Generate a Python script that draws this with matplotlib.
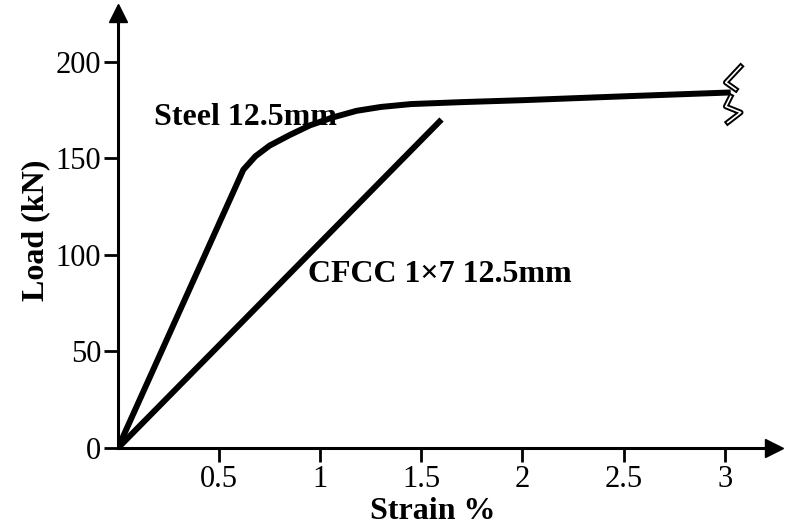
import numpy as np
import matplotlib.pyplot as plt
import matplotlib.transforms as mtransforms

# Data
steel_strain = [0.0, 0.62, 0.68, 0.75, 0.85, 0.95, 1.06, 1.18, 1.30, 1.45, 1.7, 2.0, 2.5, 3.03]
steel_load = [0.0, 144, 151, 156.5, 162, 167, 171, 174.5, 176.5, 178, 179, 180, 182, 184]
cfcc_strain = [0.0, 1.60]
cfcc_load = [0.0, 170]

x_ticks = [0.5, 1, 1.5, 2, 2.5, 3]
x_ticklabels = ["0.5", "1", "1.5", "2", "2.5", "3"]
y_ticks = [0, 50, 100, 150, 200]

plt.rcParams['font.family'] = ['Liberation Serif', 'DejaVu Serif']

fig = plt.figure(figsize=(7.86, 5.29), dpi=100)
ax = fig.add_axes([0.150, 0.153, 0.835, 0.822])

ax.plot(steel_strain, steel_load, color='black', lw=4.3, solid_capstyle='butt', solid_joinstyle='round')
ax.plot(cfcc_strain, cfcc_load, color='black', lw=4.3, solid_capstyle='butt')

ax.set_xlim(0, 3.245)
ax.set_ylim(0, 225)

ax.spines['top'].set_visible(False)
ax.spines['right'].set_visible(False)
ax.spines['left'].set_linewidth(2.2)
ax.spines['bottom'].set_linewidth(2.2)

# arrow heads at the axis ends
ax.plot(1, 0, marker='>', color='black', markersize=13, transform=ax.transAxes, clip_on=False)
ax.plot(0, 1, marker='^', color='black', markersize=13, transform=ax.transAxes, clip_on=False)

ax.set_xticks(x_ticks)
ax.set_xticklabels(x_ticklabels)
ax.set_yticks(y_ticks)
ax.tick_params(axis='both', labelsize=22, width=2, length=10, direction='out', pad=2)

ax.set_xlabel("Strain %", fontsize=23, fontweight='bold', labelpad=2, x=0.479)
ax.set_ylabel("Load (kN)", fontsize=23, fontweight='bold', labelpad=4)

ax.text(0.18, 171, "Steel 12.5mm", fontsize=23, fontweight='bold', va='center', ha='left')
ax.text(0.94, 90, "CFCC 1\u00d77 12.5mm", fontsize=23, fontweight='bold', va='center', ha='left')

# break symbol at the end of the steel curve (pixel offsets from the end point)
fig.canvas.draw()
end_disp = ax.transData.transform((steel_strain[-1], steel_load[-1]))
tr = mtransforms.Affine2D().translate(*end_disp)
upper = np.array([[10, 26], [-5, 10], [5, 3]])
lower = np.array([[0, -4], [-5, -14], [10, -20], [-3, -30]])
for seg in (upper, lower):
    ax.plot(seg[:, 0], seg[:, 1], color='black', lw=4, transform=tr, clip_on=False)
    ax.plot(seg[:, 0], seg[:, 1], color='white', lw=1.2, transform=tr, clip_on=False)

plt.savefig('out.png', dpi=100)
